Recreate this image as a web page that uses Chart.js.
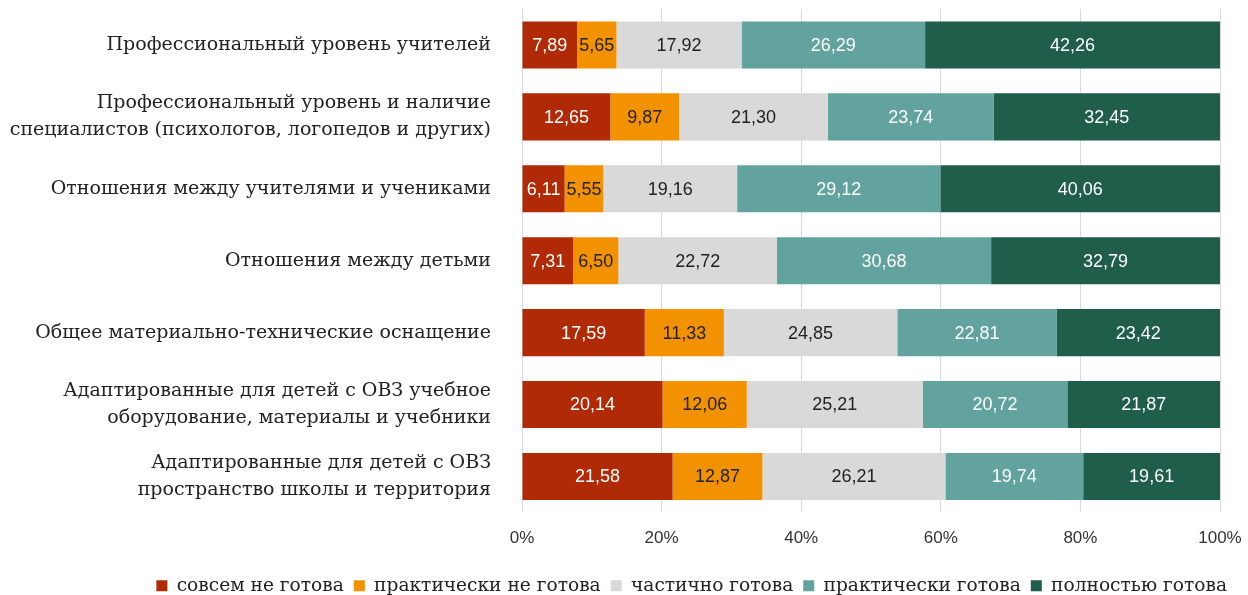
<!DOCTYPE html>
<html>
<head>
<meta charset="utf-8">
<script src="https://cdn.jsdelivr.net/npm/chart.js@4"></script>
<style>
  html, body { margin: 0; padding: 0; background: #fff; }
  #wrap { width: 1248px; height: 595px; }
</style>
</head>
<body>
<div id="wrap"><canvas id="chart" width="1248" height="595"></canvas></div>
<script>
const categories = [
    'Профессиональный уровень учителей',
    ['Профессиональный уровень и наличие', 'специалистов (психологов, логопедов и других)'],
    'Отношения между учителями и учениками',
    'Отношения между детьми',
    'Общее материально-технические оснащение',
    ['Адаптированные для детей с ОВЗ учебное', 'оборудование, материалы и учебники'],
    ['Адаптированные для детей с ОВЗ', 'пространство школы и территория']
];
const seriesNames = ['совсем не готова', 'практически не готова', 'частично готова', 'практически готова', 'полностью готова'];
const sovsemNe = [7.89, 12.65, 6.11, 7.31, 17.59, 20.14, 21.58];
const praktNe = [5.65, 9.87, 5.55, 6.50, 11.33, 12.06, 12.87];
const chastichno = [17.92, 21.30, 19.16, 22.72, 24.85, 25.21, 26.21];
const praktGotova = [26.29, 23.74, 29.12, 30.68, 22.81, 20.72, 19.74];
const polnostyu = [42.26, 32.45, 40.06, 32.79, 23.42, 21.87, 19.61];
const xTicks = [0, 20, 40, 60, 80, 100];

const colors = ['#B02A05', '#F39200', '#D9D9D9', '#62A39F', '#1F5E4A'];
const labelColors = ['#ffffff', '#222222', '#222222', '#ffffff', '#ffffff'];
const serif = '"DejaVu Serif", serif';
const sans = '"Liberation Sans", sans-serif';

// подписи значений внутри сегментов
const valueLabels = {
    id: 'valueLabels',
    afterDatasetsDraw(chart) {
        const ctx = chart.ctx;
        ctx.save();
        ctx.font = '18px ' + sans;
        ctx.textAlign = 'center';
        ctx.textBaseline = 'middle';
        chart.data.datasets.forEach((ds, i) => {
            chart.getDatasetMeta(i).data.forEach((bar, j) => {
                const v = ds.data[j];
                const cx = (bar.x + bar.base) / 2;
                ctx.fillStyle = labelColors[i];
                ctx.fillText(v.toFixed(2).replace('.', ','), cx, bar.y + 1);
            });
        });
        ctx.restore();
    }
};

const allData = [sovsemNe, praktNe, chastichno, praktGotova, polnostyu];
const ctx = document.getElementById('chart').getContext('2d');
const myChart = new Chart(ctx, {
    type: 'bar',
    data: {
        labels: categories,
        datasets: allData.map((d, i) => ({
            label: seriesNames[i],
            data: d,
            backgroundColor: colors[i],
            borderWidth: 0,
            categoryPercentage: 0.655,
            barPercentage: 1
        }))
    },
    options: {
        indexAxis: 'y',
        responsive: false,
        animation: false,
        layout: { padding: { top: 9, right: 11, bottom: -10, left: 0 } },
        plugins: {
            legend: {
                position: 'bottom',
                align: 'end',
                labels: {
                    font: { family: serif, size: 18.6 },
                    color: '#222',
                    boxWidth: 11,
                    boxHeight: 11,
                    padding: 10
                }
            },
            tooltip: { enabled: false }
        },
        scales: {
            x: {
                stacked: true,
                min: 0,
                max: 100,
                afterBuildTicks(scale) { scale.ticks = xTicks.map(v => ({ value: v })); },
                afterFit(scale) {
                    scale.height = 54;
                    scale.paddingLeft = 0;
                    scale.paddingRight = 28;
                },
                ticks: {
                    callback: v => v + '%',
                    font: { family: sans, size: 17 },
                    color: '#333',
                    padding: 16
                },
                grid: { color: '#D9D9D9', drawTicks: false },
                border: { display: false }
            },
            y: {
                stacked: true,
                afterFit(scale) {
                    scale.width = 522;
                    scale.paddingTop = 0;
                    scale.paddingBottom = 0;
                },
                ticks: {
                    font: { family: serif, size: 19, lineHeight: 1.42 },
                    color: '#222',
                    padding: 31
                },
                grid: { display: false, drawTicks: false },
                border: { display: false }
            }
        }
    },
    plugins: [valueLabels]
});
</script>
</body>
</html>
